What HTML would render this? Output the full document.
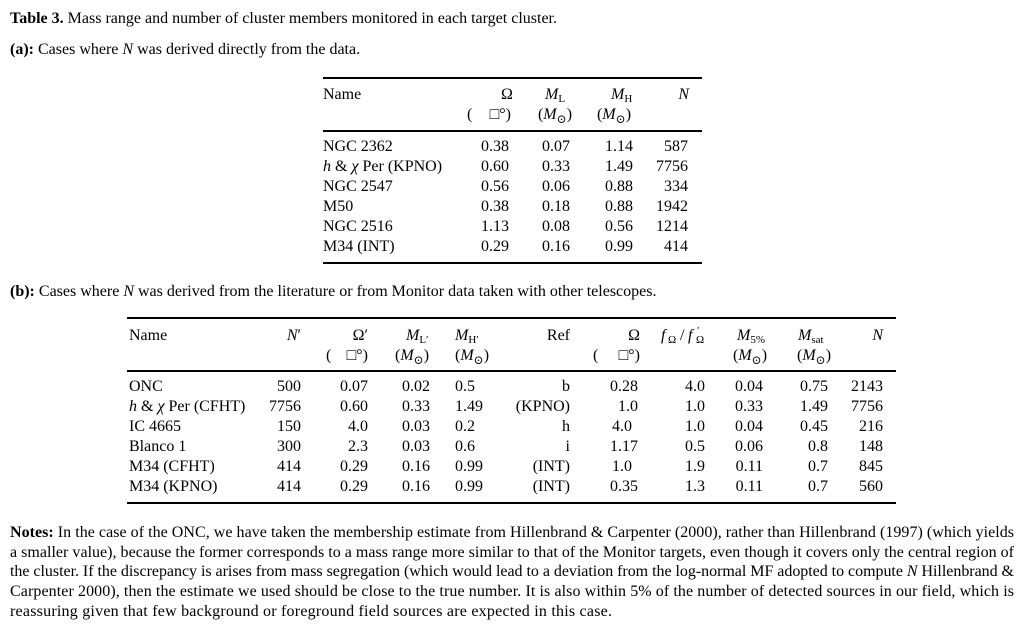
<!DOCTYPE html>
<html>
<head>
<meta charset="utf-8">
<style>
html,body{margin:0;padding:0;background:#fff;}
svg{display:block;}
text{font-family:"Liberation Serif","DejaVu Serif",serif;font-size:16px;fill:#000;}
.it{font-style:italic;}
.b{font-weight:bold;}
.sub{font-size:11px;}
.sun{font-size:12px;}
</style>
</head>
<body>
<svg width="1025" height="629" viewBox="0 0 1025 629" xmlns="http://www.w3.org/2000/svg">
<rect width="1025" height="629" fill="#fff"/>

<!-- Title -->
<text x="10" y="23"><tspan class="b">Table 3.</tspan> Mass range and number of cluster members monitored in each target cluster.</text>
<text x="10" y="54"><tspan class="b">(a):</tspan> Cases where <tspan class="it">N</tspan> was derived directly from the data.</text>

<!-- Table a rules -->
<rect x="323" y="77" width="379" height="2" fill="#000"/>
<rect x="323" y="130" width="379" height="2" fill="#000"/>
<rect x="323" y="262" width="379" height="2" fill="#000"/>

<!-- Table a header -->
<text x="323" y="99">Name</text>
<text x="507" y="99" text-anchor="middle">Ω</text>
<text x="545" y="99"><tspan class="it">M</tspan><tspan class="sub" dy="3">L</tspan></text>
<text x="611" y="99"><tspan class="it">M</tspan><tspan class="sub" dy="3">H</tspan></text>
<text x="689" y="99" text-anchor="end" class="it">N</text>

<text x="467" y="119">(</text>
<text x="511" y="119" text-anchor="end">□°)</text>
<text x="555" y="119" text-anchor="middle">(<tspan class="it">M</tspan><tspan class="sun" dy="4">⊙</tspan><tspan dy="-4">)</tspan></text>
<text x="614" y="119" text-anchor="middle">(<tspan class="it">M</tspan><tspan class="sun" dy="4">⊙</tspan><tspan dy="-4">)</tspan></text>

<!-- Table a rows -->
<g>
<text x="323" y="151">NGC 2362</text>
<text x="509" y="151" text-anchor="end">0.38</text>
<text x="570" y="151" text-anchor="end">0.07</text>
<text x="633" y="151" text-anchor="end">1.14</text>
<text x="688" y="151" text-anchor="end">587</text>

<text x="323" y="171"><tspan class="it">h</tspan> &amp; <tspan class="it">χ</tspan> Per (KPNO)</text>
<text x="509" y="171" text-anchor="end">0.60</text>
<text x="570" y="171" text-anchor="end">0.33</text>
<text x="633" y="171" text-anchor="end">1.49</text>
<text x="688" y="171" text-anchor="end">7756</text>

<text x="323" y="191">NGC 2547</text>
<text x="509" y="191" text-anchor="end">0.56</text>
<text x="570" y="191" text-anchor="end">0.06</text>
<text x="633" y="191" text-anchor="end">0.88</text>
<text x="688" y="191" text-anchor="end">334</text>

<text x="323" y="211">M50</text>
<text x="509" y="211" text-anchor="end">0.38</text>
<text x="570" y="211" text-anchor="end">0.18</text>
<text x="633" y="211" text-anchor="end">0.88</text>
<text x="688" y="211" text-anchor="end">1942</text>

<text x="323" y="231">NGC 2516</text>
<text x="509" y="231" text-anchor="end">1.13</text>
<text x="570" y="231" text-anchor="end">0.08</text>
<text x="633" y="231" text-anchor="end">0.56</text>
<text x="688" y="231" text-anchor="end">1214</text>

<text x="323" y="251">M34 (INT)</text>
<text x="509" y="251" text-anchor="end">0.29</text>
<text x="570" y="251" text-anchor="end">0.16</text>
<text x="633" y="251" text-anchor="end">0.99</text>
<text x="688" y="251" text-anchor="end">414</text>
</g>

<text x="10" y="296"><tspan class="b">(b):</tspan> Cases where <tspan class="it">N</tspan> was derived from the literature or from Monitor data taken with other telescopes.</text>

<!-- Table b rules -->
<rect x="127" y="317" width="769" height="2" fill="#000"/>
<rect x="127" y="370" width="769" height="2" fill="#000"/>
<rect x="127" y="502" width="769" height="2" fill="#000"/>

<!-- Table b header line 1 -->
<text x="129" y="340">Name</text>
<text x="301" y="340" text-anchor="end"><tspan class="it">N</tspan>′</text>
<text x="368" y="340" text-anchor="end">Ω′</text>
<text x="406" y="340"><tspan class="it">M</tspan><tspan class="sub" dy="3">L′</tspan></text>
<text x="455" y="340"><tspan class="it">M</tspan><tspan class="sub" dy="3">H′</tspan></text>
<text x="570" y="340" text-anchor="end">Ref</text>
<text x="640" y="340" text-anchor="end">Ω</text>
<text x="661" y="340" class="it">f</text>
<text x="668" y="343" class="sub">Ω</text>
<text x="680" y="340">/</text>
<text x="688" y="340" class="it">f</text>
<text x="697" y="334" class="sub">′</text>
<text x="696" y="343" class="sub">Ω</text>
<text x="737" y="340"><tspan class="it">M</tspan><tspan class="sub" dy="3">5%</tspan></text>
<text x="798" y="340"><tspan class="it">M</tspan><tspan class="sub" dy="3">sat</tspan></text>
<text x="883" y="340" text-anchor="end" class="it">N</text>

<!-- Table b header line 2 -->
<text x="326" y="360">(</text>
<text x="368" y="360" text-anchor="end">□°)</text>
<text x="395" y="360">(<tspan class="it">M</tspan><tspan class="sun" dy="4">⊙</tspan><tspan dy="-4">)</tspan></text>
<text x="455" y="360">(<tspan class="it">M</tspan><tspan class="sun" dy="4">⊙</tspan><tspan dy="-4">)</tspan></text>
<text x="593" y="360">(</text>
<text x="640" y="360" text-anchor="end">□°)</text>
<text x="733" y="360">(<tspan class="it">M</tspan><tspan class="sun" dy="4">⊙</tspan><tspan dy="-4">)</tspan></text>
<text x="797" y="360">(<tspan class="it">M</tspan><tspan class="sun" dy="4">⊙</tspan><tspan dy="-4">)</tspan></text>

<!-- Table b rows -->
<g>
<text x="129" y="391">ONC</text>
<text x="301" y="391" text-anchor="end">500</text>
<text x="368" y="391" text-anchor="end">0.07</text>
<text x="430" y="391" text-anchor="end">0.02</text>
<text x="455" y="391">0.5</text>
<text x="570" y="391" text-anchor="end">b</text>
<text x="638" y="391" text-anchor="end">0.28</text>
<text x="705" y="391" text-anchor="end">4.0</text>
<text x="763" y="391" text-anchor="end">0.04</text>
<text x="828" y="391" text-anchor="end">0.75</text>
<text x="883" y="391" text-anchor="end">2143</text>

<text x="129" y="411"><tspan class="it">h</tspan> &amp; <tspan class="it">χ</tspan> Per (CFHT)</text>
<text x="301" y="411" text-anchor="end">7756</text>
<text x="368" y="411" text-anchor="end">0.60</text>
<text x="430" y="411" text-anchor="end">0.33</text>
<text x="455" y="411">1.49</text>
<text x="570" y="411" text-anchor="end">(KPNO)</text>
<text x="638" y="411" text-anchor="end">1.0</text>
<text x="705" y="411" text-anchor="end">1.0</text>
<text x="763" y="411" text-anchor="end">0.33</text>
<text x="828" y="411" text-anchor="end">1.49</text>
<text x="883" y="411" text-anchor="end">7756</text>

<text x="129" y="431">IC 4665</text>
<text x="301" y="431" text-anchor="end">150</text>
<text x="368" y="431" text-anchor="end">4.0</text>
<text x="430" y="431" text-anchor="end">0.03</text>
<text x="455" y="431">0.2</text>
<text x="570" y="431" text-anchor="end">h</text>
<text x="612" y="431">4.0</text>
<text x="705" y="431" text-anchor="end">1.0</text>
<text x="763" y="431" text-anchor="end">0.04</text>
<text x="828" y="431" text-anchor="end">0.45</text>
<text x="883" y="431" text-anchor="end">216</text>

<text x="129" y="451">Blanco 1</text>
<text x="301" y="451" text-anchor="end">300</text>
<text x="368" y="451" text-anchor="end">2.3</text>
<text x="430" y="451" text-anchor="end">0.03</text>
<text x="455" y="451">0.6</text>
<text x="570" y="451" text-anchor="end">i</text>
<text x="638" y="451" text-anchor="end">1.17</text>
<text x="705" y="451" text-anchor="end">0.5</text>
<text x="763" y="451" text-anchor="end">0.06</text>
<text x="828" y="451" text-anchor="end">0.8</text>
<text x="883" y="451" text-anchor="end">148</text>

<text x="129" y="471">M34 (CFHT)</text>
<text x="301" y="471" text-anchor="end">414</text>
<text x="368" y="471" text-anchor="end">0.29</text>
<text x="430" y="471" text-anchor="end">0.16</text>
<text x="455" y="471">0.99</text>
<text x="570" y="471" text-anchor="end">(INT)</text>
<text x="612" y="471">1.0</text>
<text x="705" y="471" text-anchor="end">1.9</text>
<text x="763" y="471" text-anchor="end">0.11</text>
<text x="828" y="471" text-anchor="end">0.7</text>
<text x="883" y="471" text-anchor="end">845</text>

<text x="129" y="491">M34 (KPNO)</text>
<text x="301" y="491" text-anchor="end">414</text>
<text x="368" y="491" text-anchor="end">0.29</text>
<text x="430" y="491" text-anchor="end">0.16</text>
<text x="455" y="491">0.99</text>
<text x="570" y="491" text-anchor="end">(INT)</text>
<text x="638" y="491" text-anchor="end">0.35</text>
<text x="705" y="491" text-anchor="end">1.3</text>
<text x="763" y="491" text-anchor="end">0.11</text>
<text x="828" y="491" text-anchor="end">0.7</text>
<text x="883" y="491" text-anchor="end">560</text>
</g>

<!-- Notes -->
<text x="10" y="537" textLength="1004" lengthAdjust="spacing"><tspan class="b">Notes:</tspan> In the case of the ONC, we have taken the membership estimate from Hillenbrand &amp; Carpenter (2000), rather than Hillenbrand (1997) (which yields</text>
<text x="10" y="557" textLength="1004" lengthAdjust="spacing">a smaller value), because the former corresponds to a mass range more similar to that of the Monitor targets, even though it covers only the central region of</text>
<text x="10" y="576" textLength="1004" lengthAdjust="spacing">the cluster. If the discrepancy is arises from mass segregation (which would lead to a deviation from the log-normal MF adopted to compute <tspan class="it">N</tspan> Hillenbrand &amp;</text>
<text x="10" y="596" textLength="1004" lengthAdjust="spacing">Carpenter 2000), then the estimate we used should be close to the true number. It is also within 5% of the number of detected sources in our field, which is</text>
<text x="10" y="616" textLength="602" lengthAdjust="spacing">reassuring given that few background or foreground field sources are expected in this case.</text>
</svg>
</body>
</html>
